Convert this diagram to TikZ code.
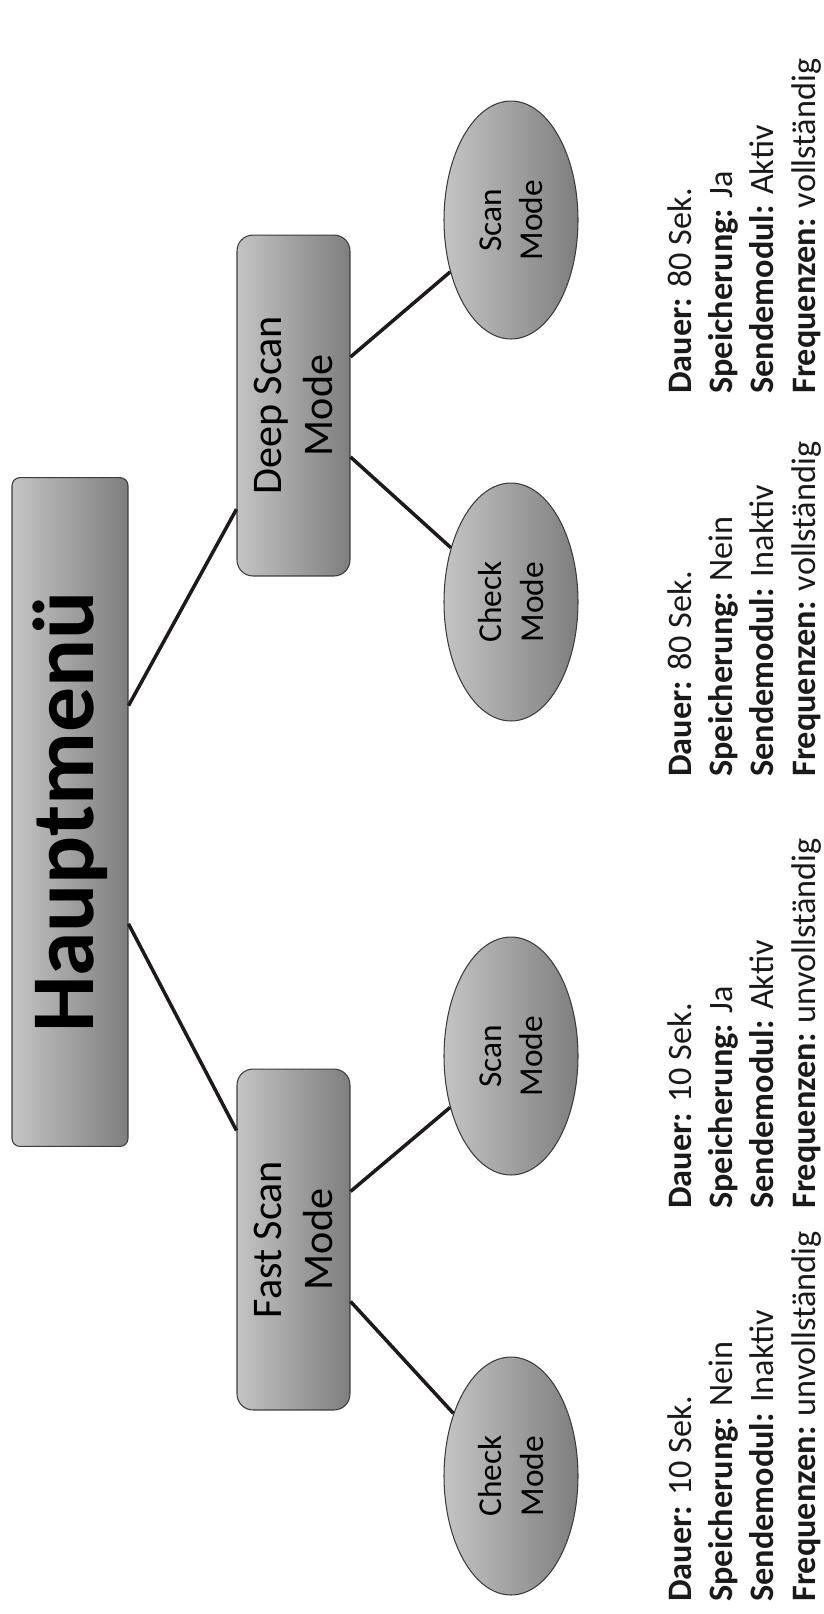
\documentclass[tikz,border=0pt]{standalone}
\usepackage{fontspec}
\setmainfont{Carlito}
\usepackage{xcolor}
\usepackage{tikz}
\usetikzlibrary{shapes.geometric, positioning}

\begin{document}
\begin{tikzpicture}[x=0.02cm, y=-0.02cm]
  \definecolor{shadelight}{HTML}{C4C4C4}
  \definecolor{shadedark}{HTML}{7E7E7E}
  \definecolor{boxedge}{HTML}{3C3C3C}
  \definecolor{linkcol}{HTML}{1E1A1A}
  \definecolor{infocol}{HTML}{1A1A1A}
  \tikzset{
    shaded/.style={draw=boxedge, line width=0.6pt, left color=shadelight, right color=shadedark, rotate=90, align=center, inner sep=0pt},
    mainbox/.style={shaded, rounded corners=0.16cm, minimum width=13.38cm, minimum height=2.32cm, font=\fontsize{51}{60}\selectfont\bfseries},
    modebox/.style={shaded, rounded corners=0.32cm, minimum width=6.82cm, minimum height=2.26cm, font=\fontsize{24}{29}\selectfont},
    leaf/.style={shaded, ellipse, minimum width=4.76cm, minimum height=2.68cm, font=\fontsize{19}{23.5}\selectfont},
    infotext/.style={rotate=90, anchor=north west, align=left, inner sep=0pt, text=infocol, font=\fontsize{19.5}{23.5}\selectfont},
    link/.style={draw=linkcol, line width=2pt}
  }
  \useasboundingbox (0,0) rectangle (824,1614);

  \node[mainbox] (haupt) at (70, 812) {Hauptmenü};

  \node[modebox] (deep) at (293.5, 405.5) {Deep Scan\\Mode};
  \node[modebox] (fast) at (293.5, 1239.5) {Fast Scan\\Mode};

  \node[leaf] (deepscan) at (511, 220) {Scan\\Mode};
  \node[leaf] (deepcheck) at (511, 602) {Check\\Mode};
  \node[leaf] (fastscan) at (511, 1056) {Scan\\Mode};
  \node[leaf] (fastcheck) at (511, 1476) {Check\\Mode};

  \draw[link] (haupt) -- (deep);
  \draw[link] (haupt) -- (fast);
  \draw[link] (deep) -- (deepscan);
  \draw[link] (deep) -- (deepcheck);
  \draw[link] (fast) -- (fastscan);
  \draw[link] (fast) -- (fastcheck);

  % mode details
  \node[infotext] (infofastcheck) at (667, 1602) {\textbf{Dauer:} 10 Sek.\\\textbf{Speicherung:} Nein\\\textbf{Sendemodul:} Inaktiv\\\textbf{Frequenzen:} unvollständig};
  \node[infotext] (infofastscan) at (667, 1209) {\textbf{Dauer:} 10 Sek.\\\textbf{Speicherung:} Ja\\\textbf{Sendemodul:} Aktiv\\\textbf{Frequenzen:} unvollständig};
  \node[infotext] (infodeepcheck) at (667, 777) {\textbf{Dauer:} 80 Sek.\\\textbf{Speicherung:} Nein\\\textbf{Sendemodul:} Inaktiv\\\textbf{Frequenzen:} vollständig};
  \node[infotext] (infodeepscan) at (667, 394) {\textbf{Dauer:} 80 Sek.\\\textbf{Speicherung:} Ja\\\textbf{Sendemodul:} Aktiv\\\textbf{Frequenzen:} vollständig};
\end{tikzpicture}
\end{document}
